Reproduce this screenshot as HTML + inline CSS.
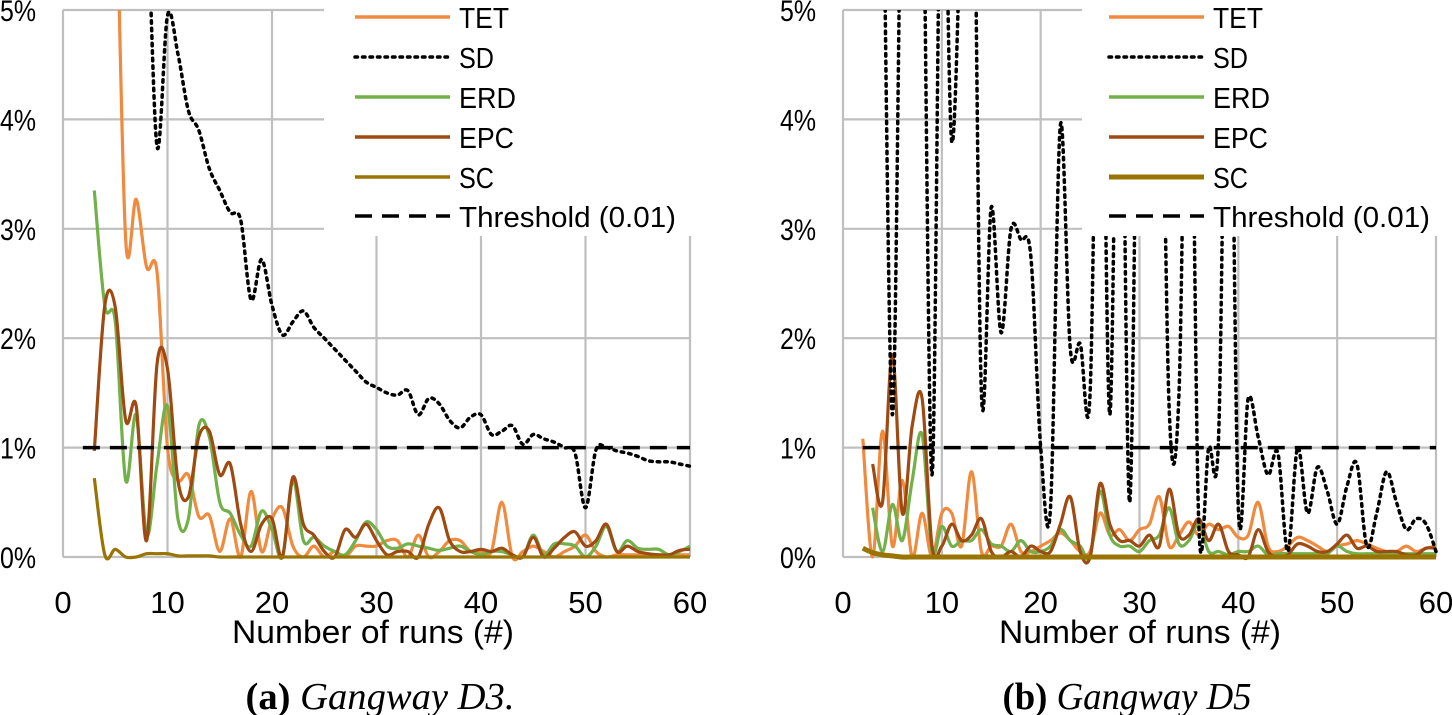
<!DOCTYPE html>
<html><head><meta charset="utf-8"><style>
html,body{margin:0;padding:0;background:#fff;}
svg{display:block;}
text{font-family:"Liberation Sans",sans-serif;fill:#000;}
.cap{font-family:"Liberation Serif",serif;}
</style></head><body>
<svg id="svg" width="1452" height="715" viewBox="0 0 1452 715" xmlns="http://www.w3.org/2000/svg">
<defs>
<clipPath id="clipA"><rect x="50" y="10" width="660" height="560"/></clipPath>
<clipPath id="clipB"><rect x="830" y="10" width="622" height="560"/></clipPath>
</defs>
</svg>
<script>
const xTicks=[0,10,20,30,40,50,60];
const yTicks=[0,1,2,3,4,5];
const seriesNames=["TET","SD","ERD","EPC","SC","Threshold (0.01)"];
// Chart A (Gangway D3): runs 3..60
const runsA=[3,4,5,6,7,8,9,10,11,12,13,14,15,16,17,18,19,20,21,22,23,24,25,26,27,28,29,30,31,32,33,34,35,36,37,38,39,40,41,42,43,44,45,46,47,48,49,50,51,52,53,54,55,56,57,58,59,60];
const tetA=[12,9,6.5,2.9,3.27,2.65,2.6,1.0,0.7,0.75,0.37,0.38,0.05,0.35,0.0,0.6,0.05,0.35,0.45,0.1,0.0,0.1,0.0,0.05,0.0,0.1,0.1,0.1,0.15,0.15,0.0,0.2,0.0,0.05,0.15,0.15,0.05,0.05,0.05,0.5,0.0,0.05,0.1,0.05,0.0,0.05,0.1,0.2,0.05,0.0,0.02,0.02,0.02,0.02,0.02,0.02,0.02,0.02];
const sdA=[12,10,8,7,6.5,6,3.75,4.95,4.6,4.08,3.9,3.55,3.35,3.15,3.08,2.35,2.72,2.3,2.03,2.15,2.25,2.1,2.0,1.9,1.8,1.7,1.6,1.55,1.5,1.48,1.52,1.3,1.45,1.4,1.25,1.18,1.28,1.3,1.12,1.15,1.2,1.03,1.12,1.08,1.05,1.0,0.95,0.45,0.98,1.0,0.97,0.95,0.92,0.88,0.87,0.87,0.85,0.83];
const erdA=[3.35,2.3,2.15,0.7,1.3,0.2,0.85,1.38,0.35,0.35,1.2,1.1,0.5,0.4,0.2,0.1,0.42,0.25,0.0,0.7,0.15,0.18,0.1,0.05,0.02,0.15,0.32,0.25,0.1,0.08,0.12,0.1,0.08,0.06,0.08,0.1,0.05,0.02,0.05,0.05,0.02,0.0,0.2,0.02,0.12,0.12,0.1,0.0,0.1,0.28,0.05,0.15,0.08,0.07,0.07,0.02,0.05,0.1];
const epcA=[0.97,2.3,2.28,1.25,1.38,0.15,1.77,1.72,0.7,0.55,1.1,1.15,0.75,0.85,0.3,0.05,0.3,0.35,0.0,0.73,0.3,0.2,0.05,0.0,0.25,0.18,0.3,0.15,0.02,0.05,0.05,0.0,0.3,0.45,0.15,0.05,0.05,0.07,0.05,0.08,0.02,0.0,0.18,0.0,0.08,0.18,0.23,0.1,0.15,0.3,0.05,0.1,0.05,0.03,0.02,0.02,0.06,0.07];
const scA=[0.72,0.02,0.07,0.0,0.0,0.03,0.03,0.03,0.01,0.01,0.01,0.01,0.0,0.0,0,0,0,0,0,0,0,0,0,0,0,0,0,0,0,0,0,0,0,0,0,0,0,0,0,0,0,0,0,0,0,0,0,0,0,0,0,0,0,0,0,0,0,0];
// Chart B (Gangway D5): runs 2..60
const runsB=[2,3,4,5,6,7,8,9,10,11,12,13,14,15,16,17,18,19,20,21,22,23,24,25,26,27,28,29,30,31,32,33,34,35,36,37,38,39,40,41,42,43,44,45,46,47,48,49,50,51,52,53,54,55,56,57,58,59,60];
const tetB=[1.08,0.0,1.15,0.1,0.7,0.0,0.4,0.0,0.4,0.4,0.1,0.78,0.05,0.1,0.1,0.3,0.05,0.05,0.1,0.15,0.22,0.15,0.05,0.05,0.4,0.2,0.25,0.15,0.25,0.3,0.55,0.1,0.2,0.32,0.2,0.3,0.25,0.28,0.18,0.2,0.5,0.1,0.05,0.1,0.18,0.15,0.1,0.05,0.1,0.12,0.15,0.12,0.08,0.05,0.05,0.1,0.05,0.08,0.1];
const sdB=[null,null,7,1.3,7,9,7,0.75,7,3.8,6,8,1.5,3.2,2.05,3.0,2.9,2.75,1.0,0.45,3.95,1.9,1.95,1.5,6,1.3,6,0.5,6,5,6,1.35,1.5,6,0.3,1.0,1.1,6,0.45,1.45,1.1,0.75,0.95,0.05,1.0,0.4,0.82,0.6,0.3,0.65,0.85,0.1,0.4,0.78,0.5,0.25,0.35,0.3,0.05];
const erdB=[null,0.45,0.05,0.48,0.15,0.7,1.12,0.05,0.28,0.1,0.15,0.15,0.25,0.12,0.1,0.05,0.15,0.05,0.05,0.1,0.25,0.15,0.1,0.0,0.6,0.2,0.1,0.1,0.05,0.15,0.2,0.45,0.12,0.15,0.3,0.05,0.05,0.02,0.05,0.05,0.1,0.02,0.03,0.03,0.03,0.03,0.03,0.03,0.1,0.05,0.03,0.03,0.03,0.03,0.03,0.03,0.03,0.03,0.03];
const epcB=[null,0.85,0.5,1.85,0.4,1.2,1.45,0.1,0.1,0.3,0.15,0.2,0.35,0.05,0.0,0.05,0.0,0.1,0.05,0.05,0.3,0.55,0.05,0.0,0.67,0.3,0.15,0.15,0.1,0.2,0.1,0.62,0.2,0.2,0.35,0.15,0.3,0.05,0.02,0.0,0.25,0.05,0.0,0.02,0.12,0.1,0.05,0.05,0.12,0.2,0.08,0.1,0.05,0.05,0.05,0.02,0.02,0.08,0.08];
const scB=[0.08,0.04,0.02,0.01,0,0,0,0,0,0,0,0,0,0,0,0,0,0,0,0,0,0,0,0,0,0,0,0,0,0,0,0,0,0,0,0,0,0,0,0,0,0,0,0,0,0,0,0,0,0,0,0,0,0,0,0,0,0,0];
const thresholdValue=1;

const NS="http://www.w3.org/2000/svg";
const svg=document.getElementById('svg');
function mk(tag,attrs,parent){const e=document.createElementNS(NS,tag);for(const k in attrs)e.setAttribute(k,attrs[k]);(parent||svg).appendChild(e);return e;}
function smoothPath(pts){
  if(pts.length<2)return"";
  let d="M"+pts[0][0].toFixed(1)+","+pts[0][1].toFixed(1);
  for(let i=0;i<pts.length-1;i++){
    const p0=pts[i-1]||pts[i],p1=pts[i],p2=pts[i+1],p3=pts[i+2]||p2;
    const t=6;
    const c1=[p1[0]+(p2[0]-p0[0])/t,p1[1]+(p2[1]-p0[1])/t];
    const c2=[p2[0]-(p3[0]-p1[0])/t,p2[1]-(p3[1]-p1[1])/t];
    d+=" C"+c1[0].toFixed(1)+","+c1[1].toFixed(1)+" "+c2[0].toFixed(1)+","+c2[1].toFixed(1)+" "+p2[0].toFixed(1)+","+p2[1].toFixed(1);
  }
  return d;
}
const colors={TET:"#F08A3E",SD:"#000",ERD:"#72B04A",EPC:"#9E4A12",SC:"#9A7400"};

function chart(cfg){
  const g=mk('g',{});
  
  
  const xS=v=>cfg.x0+(cfg.x60-cfg.x0)*v/60;
  const yS=v=>557-v*109.4;
  xTicks.forEach(t=>{
    const l=mk('line',{x1:xS(t),x2:xS(t),y1:yS(5),y2:yS(0),stroke:"#BFBFBF","stroke-width":2.2},g);
    
    
    const tx=mk('text',{x:xS(t),y:613,"font-size":31,"text-anchor":"middle"},g);
    tx.textContent=t;
    
    
  });
  yTicks.forEach(t=>{
    const l=mk('line',{x1:xS(0),x2:xS(60),y1:yS(t),y2:yS(t),stroke:"#BFBFBF","stroke-width":2.2},g);
    
    
    const tx=mk('text',{x:cfg.ylx,y:yS(t)+11,"font-size":30,"text-anchor":"end",textLength:36,lengthAdjust:"spacingAndGlyphs"},g);
    tx.textContent=t+"%";
    
    
  });
  const sg=mk('g',{"clip-path":"url(#"+cfg.clip+")"},g);
  const order=[["TET",cfg.tet],["ERD",cfg.erd],["EPC",cfg.epc],["SD",cfg.sd],["SC",cfg.sc]];
  order.forEach(([nm,vals])=>{
    const pts=[];
    vals.forEach((v,i)=>{if(v!==null)pts.push([xS(cfg.runs[i]),yS(v)]);});
    const attrs={d:smoothPath(pts),fill:"none",stroke:colors[nm],"stroke-width":nm==="SC"&&cfg.thickSC?5:3.2,"stroke-linejoin":"round"};
    if(nm==="SD"){attrs["stroke-dasharray"]="2.5 5";attrs["stroke-linecap"]="round";attrs["stroke-width"]=3.5;}
    const p=mk('path',attrs,sg);
    
    
  });
  const th=mk('line',{x1:xS(cfg.thStart),x2:xS(60),y1:yS(thresholdValue),y2:yS(thresholdValue),stroke:"#000","stroke-width":3.5,"stroke-dasharray":"17 10"},g);
  
  
  const lg=mk('g',{},g);
  
  
  mk('rect',{x:cfg.lgx,y:0,width:cfg.lgw,height:236,fill:"#fff"},lg);
  const ys=[17,57,97,137,177,216];
  const lens=[50,35,57,55,35,217];
  seriesNames.forEach((nm,i)=>{
    const key=nm.split(" ")[0];
    const a={x1:cfg.sx,x2:cfg.sx+95,y1:ys[i],y2:ys[i],stroke:colors[key]||"#000","stroke-width":3.5};
    if(key==="SD"){a["stroke-dasharray"]="2.5 5";a["stroke-linecap"]="round";}
    if(key==="Threshold"){a["stroke-dasharray"]="17 10";}
    if(key==="SC"&&cfg.thickSC)a["stroke-width"]=5;
    const l=mk('line',a,lg);
    
    
    const t=mk('text',{x:cfg.sx+104,y:ys[i]+11,"font-size":29,textLength:lens[i],lengthAdjust:"spacingAndGlyphs"},lg);
    t.textContent=nm;
    
    
  });
  const at=mk('text',{x:cfg.titleX,y:643,"font-size":32,"text-anchor":"middle",textLength:282,lengthAdjust:"spacingAndGlyphs"},g);
  at.textContent="Number of runs (#)";
  
  
  const cp=mk('text',{x:cfg.capX,y:709,"font-size":38,"text-anchor":"middle","class":"cap",textLength:cfg.capLen,lengthAdjust:"spacingAndGlyphs"},g);
  cp.innerHTML='<tspan font-weight="bold">('+cfg.letter+')</tspan> <tspan font-style="italic">'+cfg.caption+'</tspan>';
  
  
}
chart({name:'chart-gangway-d3',x0:63,x60:690,ylx:36,clip:'clipA',runs:runsA,tet:tetA,sd:sdA,erd:erdA,epc:epcA,sc:scA,thStart:1.9,lgx:324,lgw:400,sx:355,titleX:373,capX:380,capLen:269,letter:'a',caption:'Gangway D3.',thickSC:false});
chart({name:'chart-gangway-d5',x0:843,x60:1436,ylx:816,clip:'clipB',runs:runsB,tet:tetB,sd:sdB,erd:erdB,epc:epcB,sc:scB,thStart:2,lgx:1082,lgw:370,sx:1109,titleX:1140,capX:1127,capLen:249,letter:'b',caption:'Gangway D5',thickSC:true});
</script>
</body></html>
